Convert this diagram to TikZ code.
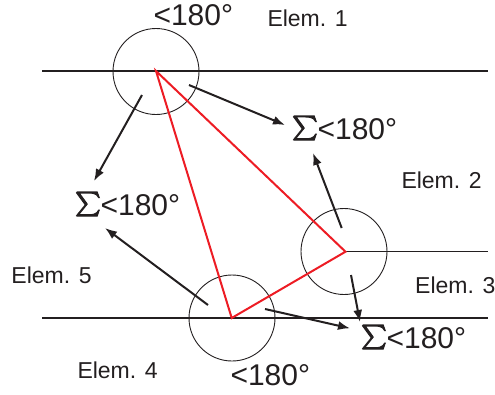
\documentclass[tikz,border=0pt]{standalone}
\usepackage{fontspec}
\usepackage{graphicx}
\setmainfont{Liberation Sans}
\usetikzlibrary{arrows.meta}
\definecolor{ink}{HTML}{231F20}
\definecolor{redline}{HTML}{ED1C24}
\newcommand\bigsig{\raisebox{-4pt}{\resizebox*{!}{27pt}{\raisebox{\depth}{\special{pdf:literal direct 0.45 w 2 Tr}$\textstyle\sum$\special{pdf:literal direct 0 Tr}}}}}
\begin{document}
\begin{tikzpicture}[x=1pt,y=-1pt,
  big/.style={inner sep=0pt,anchor=base west,text=ink,font=\fontsize{30}{35}\selectfont},
  elem/.style={inner sep=0pt,anchor=base west,text=ink,font=\fontsize{23}{27}\selectfont},
  ring/.style={draw=ink,line width=0.9pt,circle,minimum size=86pt,inner sep=0pt},
  hline/.style={draw=ink,line width=1.2pt},
  tri/.style={draw=redline,line width=2pt,line join=miter},
  arr/.style={draw=ink,line width=2pt,-{Latex[length=12pt,width=9pt]}}]
\useasboundingbox (0,0) rectangle (495,394);
% horizontal lines
\coordinate (t1) at (42,71);   \coordinate (t2) at (488,71);
\coordinate (b1) at (42,318);  \coordinate (b2) at (488,318);
\coordinate (A) at (156,71);
\coordinate (B) at (345.5,251.7);
\coordinate (C) at (231.7,318);
\coordinate (m2) at (488,251.7);
\draw[hline] (t1) -- (t2);
\draw[hline] (b1) -- (b2);
\draw[hline] (B) -- (m2);
% circles
\node[ring] (c1) at (156,71.5) {};
\node[ring] (c2) at (344,251.5) {};
\node[ring] (c3) at (232,318) {};
% red triangle
\draw[tri] (A) -- (B) -- (C) -- cycle;
% labels
\node[big] (lt) at (153.3,25) {<180°};
\node[big] (lb) at (230.3,385) {<180°};
\node[big] (s1) at (292,139) {\bigsig<180°};
\node[big] (s2) at (75,215) {\bigsig<180°};
\node[big] (s3) at (361,348) {\bigsig<180°};
\node[elem] (e1) at (267.3,26.7) {Elem. 1};
\node[elem] (e2) at (401.3,188) {Elem. 2};
\node[elem] (e3) at (415,293) {Elem. 3};
\node[elem] (e4) at (77.3,378) {Elem. 4};
\node[elem] (e5) at (11.3,283) {Elem. 5};
% arrows
\coordinate (a1s) at (142,95);   \coordinate (a1e) at (94,181);
\coordinate (a2s) at (189,85);   \coordinate (a2e) at (285,125);
\coordinate (a3s) at (341.7,228); \coordinate (a3e) at (313,153);
\coordinate (a4s) at (351,275);  \coordinate (a4e) at (360,322);
\coordinate (a5s) at (265,309);  \coordinate (a5e) at (350,328.3);
\coordinate (a6s) at (208,305);  \coordinate (a6e) at (105,228);
\draw[arr] (a1s) -- (a1e);
\draw[arr] (a2s) -- (a2e);
\draw[arr] (a3s) -- (a3e);
\draw[arr] (a4s) -- (a4e);
\draw[arr] (a5s) -- (a5e);
\draw[arr] (a6s) -- (a6e);
\end{tikzpicture}
\end{document}
